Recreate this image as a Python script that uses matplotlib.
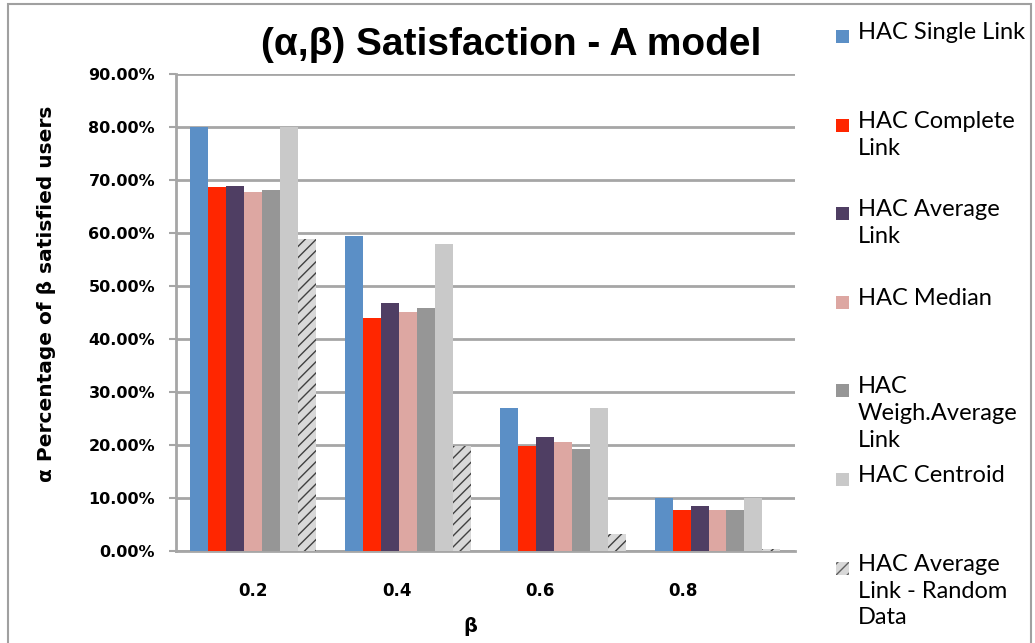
import numpy as np
import matplotlib.pyplot as plt
from matplotlib.patches import Rectangle

# beta levels on the x axis
betas = ["0.2", "0.4", "0.6", "0.8"]

# alpha = share of beta-satisfied users (in %), one list per clustering method
single_link = [80.0, 59.5, 26.9, 10.1]
complete_link = [68.6, 44.0, 19.9, 7.7]
average_link = [68.9, 46.7, 21.6, 8.5]
median = [67.8, 45.1, 20.5, 7.7]
weigh_average = [68.1, 45.8, 19.3, 7.7]
centroid = [80.0, 58.0, 26.9, 10.1]
random_data = [58.9, 19.9, 3.3, 0.3]

labels = ["HAC Single Link", "HAC Complete\nLink", "HAC Average\nLink",
          "HAC Median", "HAC\nWeigh.Average\nLink", "HAC Centroid",
          "HAC Average\nLink - Random\nData"]
colors = ["#5B8FC6", "#FF2600", "#4F3E63", "#DDA7A2", "#969696", "#C9C9C9", "#D8D8D8"]
series = [single_link, complete_link, average_link, median, weigh_average, centroid, random_data]

fig = plt.figure(figsize=(10.35, 6.43), dpi=100)
ax = fig.add_axes([0.170, 0.143, 0.598, 0.742])

x = np.arange(len(betas))
w = 0.116
grid_c = "#A6A6A6"

for i, (vals, c) in enumerate(zip(series, colors)):
    pos = x + (i - 3) * w
    if i == 6:
        ax.bar(pos, np.array(vals) / 100, w, color=c, edgecolor="#404040",
               hatch="///", linewidth=0, zorder=3)
    else:
        ax.bar(pos, np.array(vals) / 100, w, color=c, linewidth=0, zorder=3)

ax.set_xlim(-0.5, 3.5)
ax.set_ylim(0, 0.9)
ax.set_yticks(np.arange(0, 0.91, 0.1))
ax.set_yticklabels(["%.2f%%" % (v * 100) for v in np.arange(0, 0.91, 0.1)],
                   fontsize=11.5, fontweight="bold", family="DejaVu Sans")
# category labels sit slightly left of the bar groups
ax.set_xticks(x * 0.926)
ax.set_xticklabels(betas, fontsize=12, fontweight="bold", family="DejaVu Sans")
ax.tick_params(axis="x", length=0, pad=22)
ax.tick_params(axis="y", length=5, width=1.5, color=grid_c, pad=10)
ax.yaxis.grid(True, color=grid_c, linewidth=2, zorder=0)
ax.set_axisbelow(True)
for s in ["top", "right"]:
    ax.spines[s].set_visible(False)
for s in ["left", "bottom"]:
    ax.spines[s].set_color(grid_c)
    ax.spines[s].set_linewidth(2)

W, H = 1035, 643
fig.text(47 / W, 1 - 294 / H, "α Percentage of β satisfied users", fontsize=14.5,
         fontweight="bold", family="DejaVu Sans", rotation=90, ha="center", va="center")
fig.text(470 / W, 1 - 627 / H, "β", fontsize=14, fontweight="bold", ha="center", va="center",
         family="DejaVu Sans")
fig.text(511 / W, 1 - 45 / H, "(α,β) Satisfaction - A model", fontsize=28, fontweight="bold",
         ha="center", va="center", family="Liberation Sans")

# legend drawn by hand so each entry sits in its own fixed slot
for i, (lab, c) in enumerate(zip(labels, colors)):
    ytop = 36 + i * 88.6
    if i == 6:
        patch = Rectangle((836 / W, 1 - (ytop + 7) / H), 13 / W, 13 / H, transform=fig.transFigure,
                          facecolor=c, edgecolor="#606060", hatch="///", linewidth=0)
    else:
        patch = Rectangle((836 / W, 1 - (ytop + 7) / H), 13 / W, 13 / H, transform=fig.transFigure,
                          facecolor=c, linewidth=0)
    fig.patches.append(patch)
    fig.text(858 / W, 1 - (ytop - 14) / H, lab, fontsize=17, family="Lato",
             ha="left", va="top", linespacing=1.35)

# outer chart frame
fig.patches.append(Rectangle((8 / W, -0.05), 1023 / W, 1 - 4 / H + 0.05, transform=fig.transFigure,
                             fill=False, edgecolor="#A0A0A0", linewidth=1.5))

fig.savefig("out.png", dpi=100)
